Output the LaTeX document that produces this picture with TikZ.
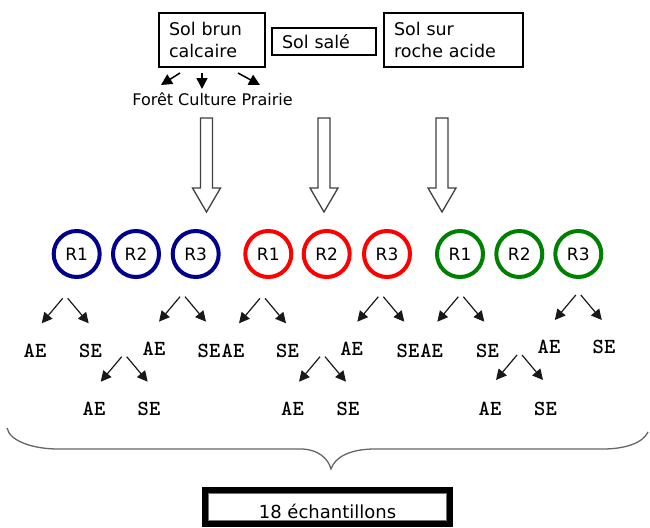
\documentclass[tikz,border=0pt]{standalone}
\usepackage{fontspec}
\setmainfont{DejaVu Sans}
\usetikzlibrary{arrows.meta}
\definecolor{rblue}{RGB}{0,0,140}
\definecolor{rred}{RGB}{255,0,0}
\definecolor{rgreen}{RGB}{0,128,0}
\newcommand\myfork[3]{%
  \coordinate (#1l0) at ({#2-2.5},#3);
  \coordinate (#1l1) at ({#2-23.5},{#3+25});
  \coordinate (#1r0) at ({#2+2.5},#3);
  \coordinate (#1r1) at ({#2+23.5},{#3+25});
  \draw[thinarrow] (#1l0) -- (#1l1);
  \draw[thinarrow] (#1r0) -- (#1r1);}
\newcommand\myblock[1]{%
  \draw[blockarrow] ({#1-6},118) -- ({#1+6},118) -- ({#1+6},188) -- ({#1+14},188)
    -- (#1,212) -- ({#1-14},188) -- ({#1-6},188) -- cycle;}
\begin{document}
\begin{tikzpicture}[x=1pt,y=-1pt,
  solbox/.style={draw, line width=1.3pt, align=left, inner xsep=10pt, inner ysep=0pt,
    font=\fontsize{17.5}{22.7}\selectfont, outer sep=0pt},
  rep/.style={circle, draw, line width=4pt, minimum size=46pt, inner sep=0pt,
    font=\fontsize{17}{20}\selectfont},
  lab/.style={font=\ttfamily\bfseries\fontsize{21.5}{21.5}\selectfont, anchor=base, inner sep=0pt},
  thinarrow/.style={-{Triangle[length=10.5pt,width=10.5pt]}, line width=1.2pt, black!90},
  bigarrow/.style={-{Triangle[length=11pt,width=11pt]}, line width=1.5pt, black},
  blockarrow/.style={draw=black!75, line width=1.3pt, fill=white, line join=miter},
  ]
\useasboundingbox (0,0) rectangle (650,527);

% soil boxes
\node[solbox, text width=86pt, minimum height=54pt] (brun) at (212,40) {Sol brun\\calcaire};
\node[solbox, text width=84pt, minimum height=27pt] (sale) at (324,41.5) {Sol salé};
\node[solbox, text width=119pt, minimum height=54pt] (acide) at (453.5,40) {Sol sur\\roche acide};

% land uses
\node[font=\fontsize{16}{16}\selectfont, anchor=base, inner sep=0pt] (usages) at (212.5,105) {Forêt Culture Prairie};
\coordinate (u1a) at (180,73); \coordinate (u1b) at (161,85);
\coordinate (u2a) at (202,73); \coordinate (u2b) at (202,89);
\coordinate (u3a) at (238,73); \coordinate (u3b) at (260,85);
\draw[bigarrow] (u1a) -- (u1b);
\draw[bigarrow] (u2a) -- (u2b);
\draw[bigarrow] (u3a) -- (u3b);

% block arrows
\myblock{206.5}
\myblock{324}
\myblock{442}

% replicates
\node[rep, draw=rblue] (b1) at (76.7,254) {R1};
\node[rep, draw=rblue] (b2) at (136,254) {R2};
\node[rep, draw=rblue] (b3) at (195.7,254) {R3};
\node[rep, draw=rred] (r1) at (268.3,254) {R1};
\node[rep, draw=rred] (r2) at (326.7,254) {R2};
\node[rep, draw=rred] (r3) at (387,254) {R3};
\node[rep, draw=rgreen] (g1) at (460,254) {R1};
\node[rep, draw=rgreen] (g2) at (519.3,254) {R2};
\node[rep, draw=rgreen] (g3) at (578.3,254) {R3};

% forks
\myfork{fa}{65.2}{298.3}
\myfork{fb}{124.2}{356.7}
\myfork{fc}{182.5}{296.7}
\myfork{fd}{262.5}{298.3}
\myfork{fe}{322.5}{356.7}
\myfork{ff}{380.8}{296.7}
\myfork{fg}{460.8}{296.7}
\myfork{fh}{519.5}{355}
\myfork{fi}{578.3}{295}

% AE / SE labels
\node[lab] (ae1) at (35,357) {AE};   \node[lab] (se1) at (90.5,357) {SE};
\node[lab] (ae2) at (94,415) {AE};   \node[lab] (se2) at (149,415) {SE};
\node[lab] (ae3) at (154,355.5) {AE}; \node[lab] (se3) at (209,357) {SE};
\node[lab] (ae4) at (233,357) {AE};  \node[lab] (se4) at (287.5,357) {SE};
\node[lab] (ae5) at (292.5,415) {AE}; \node[lab] (se5) at (348,415) {SE};
\node[lab] (ae6) at (351.7,355.5) {AE}; \node[lab] (se6) at (408,357) {SE};
\node[lab] (ae7) at (431.7,357) {AE}; \node[lab] (se7) at (487.5,357) {SE};
\node[lab] (ae8) at (490,415) {AE};  \node[lab] (se8) at (545.5,415) {SE};
\node[lab] (ae9) at (549,353.5) {AE}; \node[lab] (se9) at (604,353.5) {SE};

% brace
\draw[black!60, line width=1.3pt]
  (7,428) .. controls (10,442) and (35,449) .. (58,449) -- (303,449)
  .. controls (318,450) and (328,458) .. (331,469)
  .. controls (335,457) and (350,449) .. (375,449) -- (603,449)
  .. controls (625,449) and (643,443) .. (648,432);

% total
\node[draw, line width=6pt, minimum width=245pt, minimum height=34pt, outer sep=0pt,
  inner sep=0pt, text height=23pt, text depth=0pt, font=\fontsize{18}{18}\selectfont]
  (total) at (327.5,507) {18 échantillons};
\draw[black!55, line width=1pt] ([shift={(3.8,3.8)}]total.north west)
  rectangle ([shift={(-3.8,-3.8)}]total.south east);
\end{tikzpicture}
\end{document}
